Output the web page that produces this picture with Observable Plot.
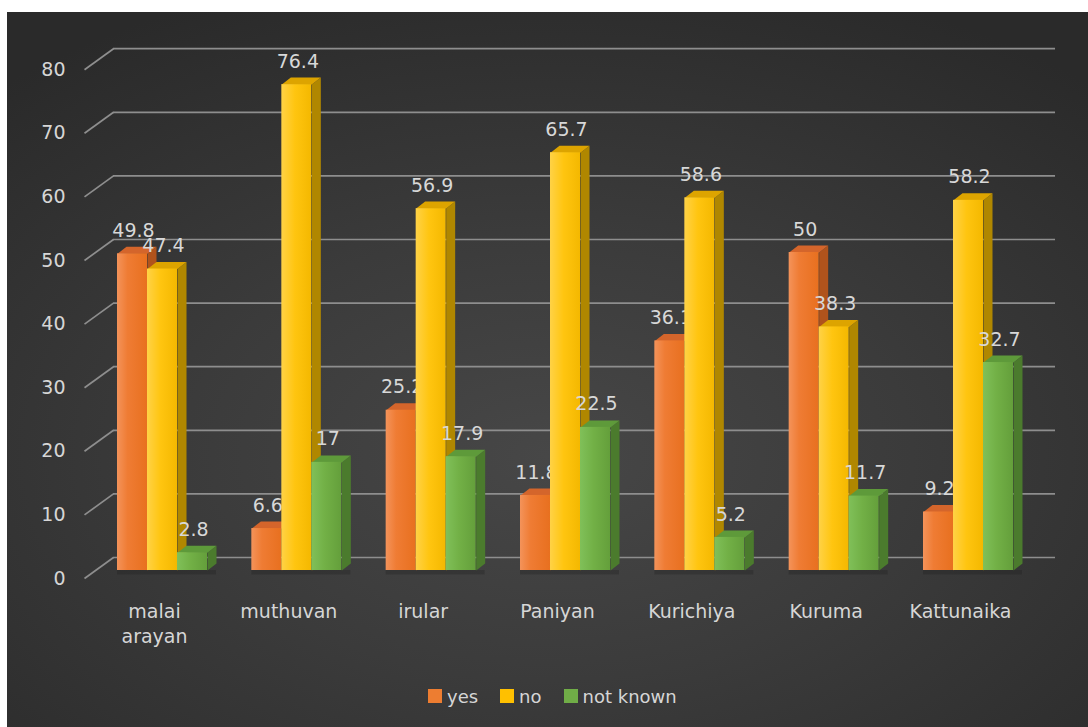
<!DOCTYPE html>
<html>
<head>
<meta charset="utf-8">
<script src="https://cdn.jsdelivr.net/npm/d3@7"></script>
<script src="https://cdn.jsdelivr.net/npm/@observablehq/plot@0.6"></script>
<style>
  html, body { margin: 0; padding: 0; background: #ffffff; }
  #card {
    position: absolute; left: 7px; top: 12px; width: 1081px; height: 715px;
    background: radial-gradient(ellipse 75% 70% at 50% 62%, #474747 0%, #3b3b3b 45%, #2a2a2a 100%);
    overflow: hidden;
  }
  #chart { position: absolute; left: 0; top: 0; }
  #legend {
    position: absolute; left: 421px; top: 674px; height: 20px;
    display: flex; align-items: center;
    font-family: "DejaVu Sans", sans-serif; font-size: 18px; color: #d6d6d6;
  }
  #legend .item { display: flex; align-items: center; margin-right: 22px; }
  #legend .sw { width: 14px; height: 14px; margin-right: 5px; }
</style>
</head>
<body>
<div id="card">
  <div id="chart"></div>
  <div id="legend"></div>
</div>
<script>
// ---- data ----
const categories = ["malai\narayan", "muthuvan", "irular", "Paniyan", "Kurichiya", "Kuruma", "Kattunaika"];
const seriesNames = ["yes", "no", "not known"];
const yesValues = [49.8, 6.6, 25.2, 11.8, 36.1, 50, 9.2];
const noValues = [47.4, 76.4, 56.9, 65.7, 58.6, 38.3, 58.2];
const notKnownValues = [2.8, 17, 17.9, 22.5, 5.2, 11.7, 32.7];
const yTicks = [0, 10, 20, 30, 40, 50, 60, 70, 80];

// ---- styles ----
const legendColors = ["#ED7D31", "#FFC000", "#70AD47"];
const frontFills = ["url(#gYes)", "url(#gNo)", "url(#gNk)"];
const topFills = ["#D4652B", "#DDA400", "#5E9A3A"];
const sideFills = ["#B0531C", "#B08700", "#4B7B2D"];

// geometry helpers (pixel -> data unit conversions for the 3D look)
const PX_PER_CAT = 134.33;
const PX_PER_UNIT = 6.36;
const barW = 30 / PX_PER_CAT;
const depthX = 9 / PX_PER_CAT;
const depthY = 7 / PX_PER_UNIT;
const wallX1 = -49 / PX_PER_CAT, wallX2 = 893 / PX_PER_CAT;
const diagX = 29 / PX_PER_CAT, diagY = 21 / PX_PER_UNIT;

const seriesValues = [yesValues, noValues, notKnownValues];

function barsFor(s) {
  return seriesValues[s].map((v, i) => {
    const x1 = i + (s - 1.5) * barW;
    return { i, s, v, x1, x2: x1 + barW, cx: x1 + barW / 2, label: String(v) };
  });
}
function sidePolys(bars) {
  const pts = [];
  for (const b of bars) {
    const id = b.s + "-" + b.i;
    pts.push({ id, x: b.x2, y: 0 }, { id, x: b.x2, y: b.v },
             { id, x: b.x2 + depthX, y: b.v + depthY }, { id, x: b.x2 + depthX, y: depthY });
  }
  return pts;
}
function topPolys(bars) {
  const pts = [];
  for (const b of bars) {
    const id = b.s + "-" + b.i;
    pts.push({ id, x: b.x1, y: b.v }, { id, x: b.x2, y: b.v },
             { id, x: b.x2 + depthX, y: b.v + depthY }, { id, x: b.x1 + depthX, y: b.v + depthY });
  }
  return pts;
}

const marks = [];
marks.push(Plot.ruleY(yTicks, { y: d => d, x1: wallX1, x2: wallX2, dy: -13, stroke: "#8e8e8e", strokeWidth: 1.7 }));
marks.push(Plot.link(yTicks, { x1: wallX1 - diagX, y1: d => d - diagY, x2: wallX1, y2: d => d, dy: -13, stroke: "#8e8e8e", strokeWidth: 1.7 }));
marks.push(Plot.rect(categories, {
  x1: (d, i) => i - 1.5 * barW, x2: (d, i) => i + 1.5 * barW + depthX,
  y1: 0, y2: -0.7, fill: "#1e1e1e", fillOpacity: 0.3
}));

for (let s = 0; s < 3; s++) {
  const bars = barsFor(s);
  marks.push(Plot.line(sidePolys(bars), { x: "x", y: "y", z: "id", fill: sideFills[s], stroke: "none", curve: "linear-closed" }));
  marks.push(Plot.line(topPolys(bars), { x: "x", y: "y", z: "id", fill: topFills[s], stroke: "none", curve: "linear-closed" }));
  marks.push(Plot.rect(bars, { x1: "x1", x2: "x2", y1: 0, y2: "v", fill: frontFills[s] }));
  marks.push(Plot.text(bars, { x: "cx", y: "v", text: "label", dy: -23, dx: 1, fill: "#d8d8d8", fontSize: 19 }));
}

marks.push(Plot.text(categories, {
  x: (d, i) => i, y: 0, text: d => d, dx: -8, dy: 30, lineAnchor: "top",
  lineHeight: 1.3, fill: "#d6d6d6", fontSize: 19
}));
marks.push(Plot.axisY({ ticks: yTicks, tickSize: 0, tickPadding: 8, dy: 8, fontSize: 19, color: "#d6d6d6" }));

const chart = Plot.plot({
  width: 1081,
  height: 650,
  marginTop: 49.2,
  marginBottom: 92,
  marginLeft: 66,
  marginRight: 20,
  x: { domain: [0, 6], range: [155, 961], axis: null },
  y: { domain: [0, 80], label: null },
  style: { background: "transparent", color: "#d6d6d6", fontFamily: "DejaVu Sans, sans-serif", overflow: "visible" },
  marks
});

const defs = `
<defs>
  <linearGradient id="gYes" x1="0" y1="0" x2="1" y2="0">
    <stop offset="0" stop-color="#F4935A"/><stop offset="0.35" stop-color="#EF7C34"/><stop offset="1" stop-color="#E8701F"/>
  </linearGradient>
  <linearGradient id="gNo" x1="0" y1="0" x2="1" y2="0">
    <stop offset="0" stop-color="#FFD246"/><stop offset="0.45" stop-color="#FFC510"/><stop offset="1" stop-color="#F4B800"/>
  </linearGradient>
  <linearGradient id="gNk" x1="0" y1="0" x2="1" y2="0">
    <stop offset="0" stop-color="#80C059"/><stop offset="0.45" stop-color="#72B046"/><stop offset="1" stop-color="#649F3B"/>
  </linearGradient>
</defs>`;
chart.insertAdjacentHTML("afterbegin", defs);
document.getElementById("chart").appendChild(chart);

const legend = document.getElementById("legend");
seriesNames.forEach((name, k) => {
  const item = document.createElement("div");
  item.className = "item";
  item.innerHTML = `<span class="sw" style="background:${legendColors[k]}"></span><span>${name}</span>`;
  legend.appendChild(item);
});
</script>
</body>
</html>
